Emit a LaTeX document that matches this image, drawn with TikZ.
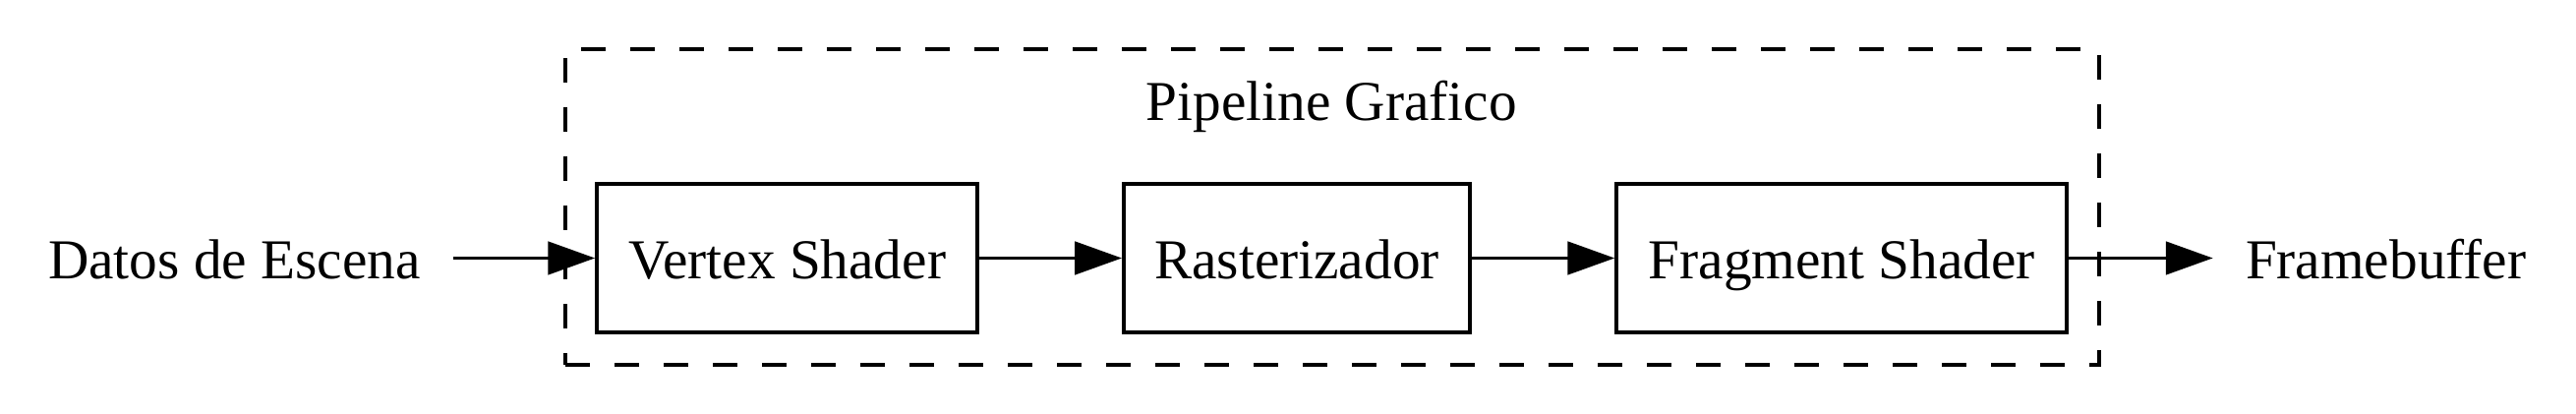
\documentclass[tikz,border=0pt]{standalone}
\usepackage{fontspec}
\setmainfont{Liberation Serif}
\usetikzlibrary{arrows.meta}
\begin{document}
\begin{tikzpicture}[x=1pt,y=-1pt,
  every node/.style={font=\fontsize{13.75}{16}\selectfont, text height=10pt, text depth=0pt},
  stagebox/.style={draw, line width=0.9pt, minimum height=36.2pt, inner sep=0pt},
  plaintext/.style={inner xsep=7.8pt, inner ysep=0pt},
  cluster/.style={draw, line width=0.9pt, dash pattern=on 6pt off 6pt, minimum width=374.4pt, minimum height=77pt, inner sep=0pt},
  flow/.style={line width=0.9pt, -{Triangle[length=11.5pt, width=8pt]}}
]
\useasboundingbox (0,0) rectangle (628.8,101.04);
\node[cluster] (clu) at (325.2,50.5) {};
\node[anchor=base, inner sep=0pt] (title) at (325,29.3) {Pipeline Grafico};
\node[stagebox, minimum width=92.9pt] (vs) at (192.15,63) {Vertex Shader};
\node[stagebox, minimum width=84.5pt] (ra) at (316.55,63) {Rasterizador};
\node[stagebox, minimum width=109.9pt] (fs) at (449.55,63) {Fragment Shader};
\node[plaintext] (in) at (57.2,63) {Datos de Escena};
\node[plaintext] (out) at (582.4,63) {Framebuffer};
\draw[flow] (in.east) -- (vs.west);
\draw[flow] (vs.east) -- (ra.west);
\draw[flow] (ra.east) -- (fs.west);
\draw[flow] (fs.east) -- (out.west);
\end{tikzpicture}
\end{document}
